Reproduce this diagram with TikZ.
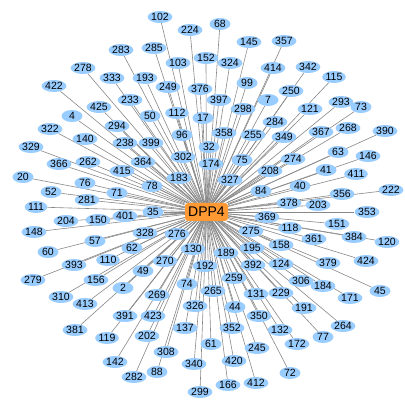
\documentclass[tikz,border=0pt]{standalone}
\usepackage{fontspec}
\setmainfont{Liberation Sans}
\usetikzlibrary{shapes.geometric,backgrounds}
\definecolor{geneblue}{RGB}{153,204,255}
\definecolor{huborange}{RGB}{255,153,51}
\definecolor{linkgray}{RGB}{136,136,136}
\begin{document}
\begin{tikzpicture}[x=1pt,y=-1pt,
  gene/.style={ellipse,fill=geneblue,minimum width=21pt,minimum height=12pt,inner sep=0pt,
               font=\fontsize{10.5}{12}\selectfont},
  hub/.style={rectangle,rounded corners=3pt,fill=huborange,minimum width=43pt,minimum height=18pt,
              inner sep=0pt,font=\fontsize{14}{16}\selectfont},
  link/.style={linkgray,line width=.6pt}]
  \useasboundingbox (0,0) rectangle (405,403);
  \def\genes{102/160/17,68/220/24,224/190/30,357/284/41,145/249/42,283/121/50,285/154/48,
    152/206/58,324/230/63,414/273/68,342/308/67,278/83/68,333/112/78,193/145/78,103/178/63,
    376/200/89,249/168/87,99/247/83,250/291/91,115/334/77,422/54/86,425/99/107,233/130/100,
    397/219/100,7/268/100,121/310/109,293/341/102,73/361/107,4/72/116,50/150/116,112/177/113,
    17/203/118,298/243/109,284/275/122,294/117/126,322/50/129,349/284/137,367/321/132,
    268/348/128,390/385/131,140/85/139,238/125/143,96/182/135,358/224/133,255/253/135,
    329/31/147,399/151/143,32/209/147,75/242/160,274/293/159,63/338/152,146/368/156,
    366/59/164,262/88/162,364/143/162,302/183/157,174/211/164,415/122/171,208/270/171,
    41/326/170,411/356/174,20/23/177,76/85/183,327/230/180,40/300/186,84/261/191,52/51/192,
    71/117/193,78/152/186,183/179/178,356/342/194,222/391/190,111/36/207,281/87/200,
    378/289/203,203/318/205,35/153/212,369/267/217,353/367/212,204/66/221,150/98/220,
    401/125/216,148/34/232,275/251/231,118/290/228,151/337/224,120/387/242,384/354/237,
    361/314/239,328/145/233,276/177/234,60/48/252,57/95/241,62/132/248,158/281/245,
    130/193/249,189/226/253,195/252/248,393/74/265,110/108/260,379/328/263,424/366/261,
    392/253/265,192/205/266,270/165/261,124/281/264,49/143/271,279/33/280,156/96/280,
    306/301/281,184/323/286,45/380/291,74/187/284,259/234/278,229/281/293,2/123/288,
    310/61/297,413/85/304,269/157/295,265/213/291,131/256/294,171/350/298,191/304/308,
    391/125/316,423/153/316,326/195/306,44/235/307,350/259/316,264/343/326,132/280/330,
    381/75/330,119/107/338,202/147/336,137/185/328,352/232/328,77/323/337,172/297/344,
    61/211/344,245/257/348,308/166/352,142/115/362,340/194/364,420/234/361,282/134/377,
    88/157/372,72/290/373,166/228/385,412/256/383,299/200/392}
  \node[hub] (dpp4) at (206.5,212) {DPP4};
  \foreach \g/\x/\y in \genes
    \node[gene] (n\g) at (\x,\y) {\g};
  \begin{pgfonlayer}{background}
    \foreach \g/\x/\y in \genes \draw[link] (dpp4) -- (n\g);
  \end{pgfonlayer}
\end{tikzpicture}
\end{document}
